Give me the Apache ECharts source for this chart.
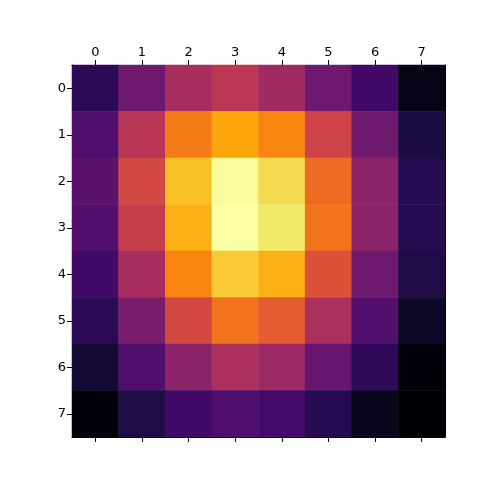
<!DOCTYPE html>
<html>
<head>
<meta charset="utf-8">
<script src="https://cdn.jsdelivr.net/npm/echarts@6/dist/echarts.min.js"></script>
<style>
  html, body { margin: 0; padding: 0; background: #fff; }
  #main { width: 480px; height: 480px; }
</style>
</head>
<body>
<div id="main"></div>
<script>
// tick labels
const xLabels = ['0', '1', '2', '3', '4', '5', '6', '7'];
const yLabels = ['0', '1', '2', '3', '4', '5', '6', '7'];

// cell values, one array per row (row 0 at top)
const row0 = [0.14, 0.31, 0.45, 0.50, 0.43, 0.31, 0.19, 0.03];
const row1 = [0.23, 0.49, 0.71, 0.80, 0.73, 0.55, 0.31, 0.10];
const row2 = [0.26, 0.57, 0.85, 0.99, 0.91, 0.67, 0.38, 0.13];
const row3 = [0.24, 0.53, 0.82, 1.00, 0.94, 0.69, 0.38, 0.13];
const row4 = [0.19, 0.45, 0.73, 0.87, 0.82, 0.60, 0.31, 0.11];
const row5 = [0.14, 0.34, 0.57, 0.69, 0.63, 0.46, 0.24, 0.06];
const row6 = [0.08, 0.23, 0.38, 0.46, 0.42, 0.29, 0.15, 0.01];
const row7 = [0.01, 0.11, 0.19, 0.23, 0.20, 0.13, 0.04, 0.00];
const rows = [row0, row1, row2, row3, row4, row5, row6, row7];

// inferno colormap, sampled every 0.05
const inferno = ['#000004', '#0a0722', '#1b0c41', '#2f0a5b', '#450a69', '#57106e',
                 '#6a176e', '#7e1e6c', '#932667', '#a82e5f', '#bc3754', '#cd4347',
                 '#dd513a', '#ea632a', '#f37819', '#f98e09', '#fca50a', '#fac127',
                 '#f6d746', '#f1ed71', '#fcffa4'];

let data = [];
rows.forEach((r, y) => r.forEach((v, x) => data.push([x, y, v])));

const chart = echarts.init(document.getElementById('main'));
const font = { fontFamily: 'DejaVu Sans', fontSize: 13, color: '#000' };
const line = { show: true, lineStyle: { color: '#000', width: 1 } };

chart.setOption({
  animation: false,
  grid: { left: 72, right: 35, top: 65, bottom: 43 },
  xAxis: [{
    type: 'category', data: xLabels, position: 'top',
    axisLine: line,
    axisTick: { show: true, alignWithLabel: true, length: 5, lineStyle: { color: '#000' } },
    axisLabel: Object.assign({ margin: 6 }, font),
    splitLine: { show: false }
  }, {
    type: 'category', data: xLabels, position: 'bottom',
    axisLine: line,
    axisTick: { show: true, alignWithLabel: true, length: 5, lineStyle: { color: '#000' } },
    axisLabel: { show: false },
    splitLine: { show: false }
  }],
  yAxis: [{
    type: 'category', data: yLabels, inverse: true, position: 'left',
    axisLine: line,
    axisTick: { show: true, alignWithLabel: true, length: 5, lineStyle: { color: '#000' } },
    axisLabel: Object.assign({ margin: 6 }, font),
    splitLine: { show: false }
  }, {
    type: 'category', data: yLabels, inverse: true, position: 'right',
    axisLine: line,
    axisTick: { show: false },
    axisLabel: { show: false },
    splitLine: { show: false }
  }],
  visualMap: {
    show: false, min: 0, max: 1, dimension: 2,
    inRange: { color: inferno }
  },
  series: [{
    type: 'heatmap',
    xAxisIndex: 0, yAxisIndex: 0,
    data: data,
    itemStyle: { borderWidth: 0 },
    z: 1
  }]
});
</script>
</body>
</html>
